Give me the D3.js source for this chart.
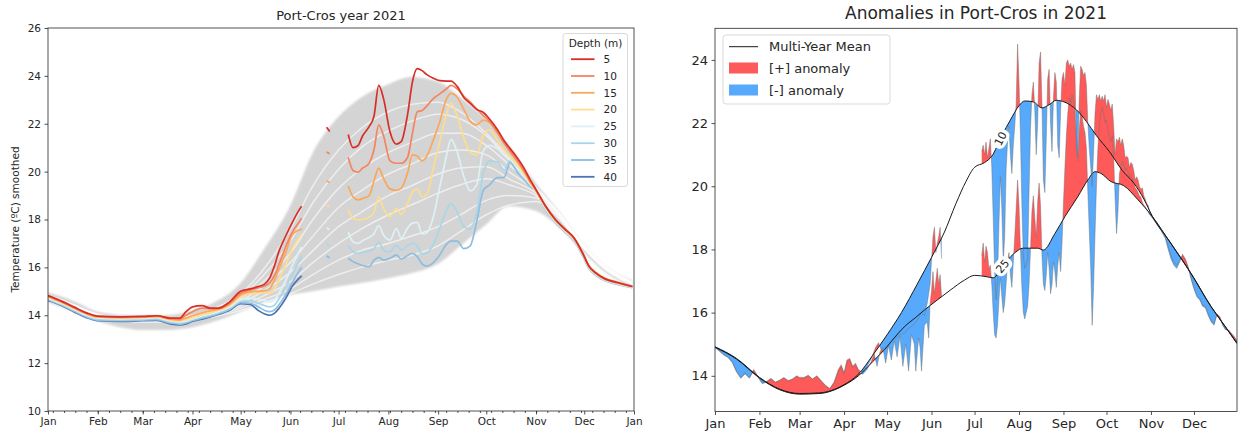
<!DOCTYPE html>
<html><head><meta charset="utf-8">
<script src="https://cdn.jsdelivr.net/npm/d3@7"></script>
<style>
html,body{margin:0;padding:0;background:#fff;}
svg{display:block;font-family:"DejaVu Sans",sans-serif;}
</style></head><body>
<svg id="chart" width="1239" height="439"></svg>
<script>
// ================= DATA =================
const monthsLabels = ["Jan","Feb","Mar","Apr","May","Jun","Jul","Aug","Sep","Oct","Nov","Dec"];
const depths = [5,10,15,20,25,30,35,40];
const depthColors = ["#d62f27","#f4845f","#fca65a","#fedd8d","#def1f6","#a9d6e8","#8ebde0","#4a74b4"];
const leftYTicks = [10,12,14,16,18,20,22,24,26];
const rightYTicks = [14,16,18,20,22,24];

// ---- Left panel: multi-year envelope & means (day of year) ----
const climDays = [0,14,31,45,59,73,90,104,120,134,151,165,181,195,212,226,243,257,273,287,304,318,334,348,364];
const envUpper = [14.95,14.65,14.15,14.02,13.98,14.0,14.2,14.55,15.35,16.7,18.6,20.8,22.3,23.1,23.65,23.95,23.75,23.1,22.2,21.1,19.5,18.35,16.9,16.0,15.45];
const envLower = [14.55,14.2,13.75,13.5,13.38,13.38,13.5,13.75,14.15,14.5,14.85,15.0,15.2,15.35,15.55,15.75,16.15,16.9,17.8,18.55,18.35,17.7,16.6,15.75,15.2];
const clim5  = [14.85,14.5,14.05,13.9,13.85,13.85,14.0,14.3,14.9,15.9,17.6,19.4,20.9,21.8,22.5,22.8,22.9,22.5,21.6,20.6,19.35,18.3,16.9,16.0,15.4];
const clim10 = [14.83,14.48,14.03,13.88,13.83,13.83,13.97,14.25,14.8,15.65,17.1,18.7,20.1,21.0,21.7,22.1,22.4,22.2,21.5,20.5,19.3,18.28,16.88,15.98,15.38];
const clim15 = [14.82,14.47,14.02,13.87,13.82,13.82,13.95,14.2,14.7,15.4,16.6,18.0,19.3,20.1,20.8,21.2,21.6,21.6,21.1,20.3,19.25,18.25,16.86,15.96,15.37];
const clim20 = [14.8,14.45,14.0,13.85,13.8,13.8,13.92,14.15,14.6,15.2,16.2,17.3,18.5,19.2,19.9,20.3,20.8,20.9,20.7,20.0,19.2,18.22,16.84,15.94,15.35];
const clim25 = [14.78,14.43,13.98,13.83,13.78,13.78,13.9,14.1,14.5,15.0,15.8,16.7,17.7,18.3,19.0,19.4,19.9,20.15,20.2,19.7,19.1,18.2,16.82,15.92,15.33];
const clim30 = [14.76,14.41,13.96,13.81,13.76,13.76,13.87,14.05,14.4,14.8,15.4,16.2,17.0,17.6,18.2,18.6,19.1,19.45,19.7,19.45,19.0,18.15,16.8,15.9,15.31];
const clim35 = [14.74,14.39,13.94,13.79,13.74,13.74,13.85,14.0,14.3,14.65,15.1,15.7,16.3,16.7,17.0,17.3,17.7,18.2,18.8,19.0,18.9,18.1,16.78,15.88,15.29];
const clim40 = [14.72,14.37,13.92,13.77,13.72,13.72,13.82,13.95,14.2,14.5,14.9,15.3,15.7,16.0,16.3,16.5,16.9,17.5,18.2,18.6,18.75,18.05,16.76,15.86,15.27];

// ---- Left panel: 2021 smoothed, three segments ----
const segADays = [0,8,16,24,31,45,59,68,76,82,86,90,96,101,106,113,120,126,131,135,138,141,144,148,152,156,158];
const t5A  = [14.82,14.6,14.35,14.1,13.96,13.93,13.95,13.98,13.88,13.88,14.15,14.35,14.4,14.3,14.3,14.55,15.0,15.1,15.2,15.3,15.55,16.05,16.7,17.3,17.85,18.35,18.55];
const t10A = [14.8,14.58,14.33,14.08,13.95,13.92,13.94,13.97,13.86,13.84,14.0,14.15,14.3,14.27,14.27,14.5,14.92,15.05,15.15,15.22,15.35,15.65,16.15,16.85,17.45,17.85,18.05];
const t15A = [14.78,14.56,14.3,14.06,13.93,13.9,13.92,13.95,13.84,13.8,13.88,13.98,14.1,14.18,14.25,14.45,14.85,14.98,15.0,15.02,15.1,15.45,15.95,16.6,17.35,17.55,17.6];
const t20A = [14.75,14.54,14.28,14.04,13.91,13.88,13.9,13.92,13.8,13.76,13.82,13.9,14.02,14.1,14.2,14.4,14.75,14.9,14.92,14.95,14.92,15.1,15.5,16.1,16.75,17.2,17.4];
const t25A = [14.72,14.5,14.25,14.0,13.88,13.85,13.87,13.9,13.76,13.72,13.76,13.85,13.97,14.05,14.15,14.33,14.65,14.72,14.68,14.6,14.55,14.65,14.95,15.45,16.05,16.6,16.85];
const t30A = [14.68,14.47,14.22,13.97,13.84,13.81,13.83,13.86,13.72,13.68,13.72,13.82,13.93,14.0,14.1,14.28,14.58,14.6,14.5,14.4,14.35,14.42,14.7,15.15,15.7,16.2,16.45];
const t35A = [14.65,14.44,14.18,13.93,13.8,13.77,13.8,13.82,13.68,13.63,13.68,13.78,13.88,13.96,14.06,14.24,14.53,14.5,14.35,14.2,14.15,14.22,14.45,14.85,15.35,15.8,16.0];
const t40A = [14.62,14.42,14.15,13.9,13.77,13.74,13.77,13.78,13.64,13.6,13.64,13.75,13.84,13.93,14.03,14.2,14.48,14.45,14.2,14.05,14.0,14.08,14.3,14.7,15.2,15.52,15.65];

const segBDays = [173.5,175.5];
const t5B = [21.85,21.68], t10B = [20.82,20.75], t15B = [19.62,19.55], t20B = [18.6,18.53];
const t25B = [17.64,17.58], t30B = [16.97,16.9], t35B = [16.47,16.4], t40B = [];

const segCDays = [187,190,193,196,200,203,206,209,213,217,220,224,227,230,233,236,240,244,248,251,255,259,263,267,271,275,280,284,288,292,296,300,304,310,316,322,328,333,337,341,347,354,364];
const t5C  = [21.55,21.0,21.08,21.5,21.88,22.3,23.6,23.05,21.67,21.15,21.25,22.4,23.75,24.3,24.22,24.05,23.9,23.8,23.78,23.78,23.55,23.1,22.85,22.6,22.48,22.2,21.75,21.3,20.95,20.6,20.2,19.7,19.25,18.55,18.0,17.6,17.2,16.6,16.05,15.78,15.52,15.38,15.2];
const t10C = [20.6,20.05,19.98,20.15,20.35,20.9,21.95,21.5,20.45,20.35,20.35,20.6,21.6,22.5,22.55,22.75,23.05,23.25,23.45,23.6,23.45,23.15,22.9,22.62,22.35,22.1,21.65,21.2,20.85,20.5,20.1,19.65,19.22,18.53,17.98,17.58,17.18,16.58,16.03,15.76,15.5,15.36,15.19];
const t15C = [19.4,18.95,18.82,18.88,19.0,19.6,20.15,19.72,19.28,19.22,19.3,19.95,20.7,20.65,20.45,20.65,21.32,22.08,23.0,23.27,23.1,22.6,22.1,21.95,22.15,22.05,21.6,21.2,20.8,20.45,20.05,19.6,19.2,18.55,18.0,17.6,17.2,16.6,16.06,15.8,15.54,15.4,15.22];
const t20C = [18.42,18.05,17.98,18.0,18.1,18.3,18.95,18.45,18.12,18.47,18.2,18.7,19.15,19.28,18.95,19.05,20.14,21.25,22.36,22.85,22.3,21.4,20.8,20.68,21.5,21.74,21.3,20.9,20.6,20.3,19.95,19.55,19.18,18.5,17.96,17.56,17.15,16.56,16.02,15.75,15.5,15.36,15.2];
const t25C = [17.48,17.07,17.0,17.12,17.25,17.4,17.75,17.35,17.14,17.62,17.22,17.65,17.85,17.88,17.4,17.45,18.1,19.35,20.6,21.35,20.8,19.8,19.2,19.45,20.85,21.1,20.95,20.7,20.5,20.2,19.85,19.5,19.15,18.45,17.92,17.52,17.12,16.52,15.98,15.72,15.47,15.33,15.17];
const t30C = [16.92,16.65,16.58,16.62,16.68,16.78,17.05,16.72,16.65,16.93,16.72,16.9,17.0,16.9,16.55,16.6,16.95,17.63,18.35,18.67,18.3,17.7,17.6,18.3,19.9,20.45,20.4,20.05,20.5,20.2,19.85,19.5,19.2,18.4,17.9,17.5,17.1,16.5,15.95,15.7,15.45,15.32,15.16];
const t35C = [16.38,16.24,16.15,16.08,16.03,16.3,16.42,16.3,16.38,16.52,16.35,16.5,16.58,16.45,16.15,16.05,16.2,16.52,16.95,17.1,17.1,16.78,16.9,17.9,19.2,19.45,19.75,19.75,20.4,20.0,19.7,19.4,19.18,18.4,17.88,17.48,17.08,16.48,15.94,15.68,15.44,15.3,15.15];
const t40C = [];

// ---- Right panel: multi-year means ----
const mean10Days = [0,15,31,45,59,73,90,100,110,120,130,141,151,160,168,175,181,188,193,200,206,212,216,222,228,233,238,244,252,259,266,275,284,292,299,305,318,332,346,356,364];
const mean10Vals = [14.92,14.55,13.95,13.58,13.44,13.46,13.72,14.05,14.65,15.3,16.0,16.9,17.75,18.55,19.45,20.15,20.6,20.75,20.95,21.6,22.1,22.55,22.7,22.67,22.48,22.58,22.72,22.66,22.42,22.05,21.6,21.1,20.5,20.1,19.6,19.05,18.19,17.24,16.19,15.55,15.03];
const mean25Days = [0,15,31,45,59,73,90,100,110,118,125,132,140,146,155,164,174,181,189,194,201,208,215,225,229,237,244,253,260,265,269,276,285,295,305,318,332,346,356,364];
const mean25Vals = [14.9,14.53,13.93,13.56,13.42,13.44,13.7,14.0,14.45,14.82,15.2,15.55,15.85,16.08,16.4,16.71,17.03,17.18,17.14,17.1,17.5,17.85,18.04,18.04,17.98,18.5,19.04,19.67,20.2,20.46,20.41,20.15,20.02,19.57,19.04,18.18,17.23,16.18,15.54,15.02];

// ---- Right panel: 2021 daily observations ----
const obs10DaysA = [0,3,6,9,12,15,18,21,24,27,30,33,36,39,42,45,48,51,54,57,59,62,65,68,71,74,77,80,83,86,88,90,92,94,96,98,100,103,106,109,112,114,116,118,120,123,126,129,132,135,138,141,144,146,148,150,152,153,154,155,156,157,158];
const obs10ValsA = [14.92,14.8,14.68,14.6,14.45,14.15,13.95,14.1,13.95,14.2,13.98,13.78,13.82,13.92,13.8,13.86,13.95,13.85,13.9,14.0,13.95,13.95,14.02,13.9,14.0,13.85,13.7,13.6,13.8,14.2,14.35,14.1,14.5,14.55,14.3,14.4,14.2,14.1,14.3,14.55,14.9,15.05,14.8,14.85,14.9,15.1,15.2,15.3,15.35,15.5,15.6,15.75,16.0,15.9,16.3,16.9,18.4,18.7,17.9,18.2,18.4,18.7,17.7];
const obs25DaysA = [0,3,6,9,12,15,18,21,24,27,30,33,36,39,42,45,48,51,54,57,59,62,65,68,71,74,77,80,83,86,88,90,92,94,96,98,100,103,106,109,111,113,115,117,119,121,123,125,127,129,131,133,135,137,139,140,142,143,144,146,148,149,150,151,152,153,154,155,156,157,158];
const obs25ValsA = [14.9,14.78,14.66,14.58,14.42,14.12,13.92,14.06,13.92,14.16,13.95,13.75,13.8,13.9,13.78,13.84,13.92,13.82,13.88,13.98,13.92,13.92,14.0,13.88,13.98,13.82,13.68,13.58,13.76,14.12,14.28,14.05,14.42,14.48,14.25,14.32,14.1,14.05,14.2,14.45,14.7,14.3,14.75,14.9,14.4,14.95,14.5,15.1,14.6,15.25,14.3,15.0,14.15,15.3,15.0,14.15,15.2,14.9,14.15,15.6,15.7,15.2,16.3,16.7,17.3,16.6,17.0,17.4,16.9,17.2,16.5];
const obsDaysCStart = 186; // daily values from Jul 6 to Nov 1
const obs10ValsC = [21.1,21.3,21.0,21.4,20.9,21.2,21.5,20.6,19.0,17.3,
  16.4,17.0,18.8,20.3,19.3,17.6,18.4,20.5,21.4,21.9,
  21.0,20.4,21.3,21.9,22.6,24.5,23.3,21.6,19.4,17.8,
  17.4,17.5,17.7,19.8,21.8,22.9,23.3,22.4,21.0,22.0,
  23.9,24.25,22.6,20.2,19.8,21.5,23.4,23.7,22.0,21.1,
  22.8,23.6,23.3,21.3,20.9,22.4,23.4,23.6,23.2,23.9,
  24.0,23.8,23.9,23.7,23.85,23.6,21.2,20.9,22.8,23.8,
  23.7,23.5,23.6,23.2,22.0,21.2,20.6,20.0,21.1,22.3,
  22.9,22.75,22.9,22.7,22.85,22.7,22.9,22.5,22.75,22.6,
  22.4,22.6,21.9,21.0,21.5,21.4,21.55,21.3,21.5,21.3,
  20.9,20.95,20.9,20.6,20.75,20.7,20.5,20.2,20.3,20.2,
  20.0,19.9,19.95,19.7,19.6,19.45,19.4,19.2,19.1,19.0];
const obs25ValsC = [17.8,18.2,17.6,18.1,17.9,17.4,17.5,16.9,16.0,15.3,
  15.2,15.6,16.4,17.1,16.5,16.0,16.3,16.9,17.6,17.9,
  17.2,16.8,17.6,18.4,19.3,20.2,19.4,18.0,16.8,16.0,
  15.8,16.0,16.2,16.9,18.0,19.2,19.7,19.0,18.4,19.5,
  20.1,19.4,17.8,16.9,16.7,17.2,17.9,17.4,16.6,16.9,
  17.6,17.3,16.8,17.5,17.9,17.3,18.2,19.5,20.6,21.6,
  22.3,22.8,22.6,22.9,22.7,22.4,21.5,20.8,21.8,22.4,
  22.2,21.9,21.7,21.2,19.8,18.6,17.4,15.6,16.8,18.5,
  20.0,21.2,21.9,22.3,22.5,22.3,22.0,22.1,21.8,21.5,
  21.4,21.6,20.9,19.6,18.5,19.2,20.4,20.6,20.8,20.7,
  20.5,20.6,20.45,20.3,20.35,20.2,20.1,19.95,19.9,19.8,
  19.7,19.65,19.5,19.4,19.35,19.25,19.2,19.1,19.05,19.0];
const obsDaysD = [308,311,314,316,318,320,322,324,326,328,330,332,334,336,338,340,342,344,346,348,350,352,354,356,358,360,362,364];
const obs10ValsD = [18.8,18.6,18.35,18.0,17.7,17.5,17.4,17.6,17.85,17.7,17.45,17.05,16.75,16.5,16.4,16.2,16.15,15.9,15.7,15.6,15.95,15.88,15.6,15.45,15.45,15.35,15.25,15.1];
const obs25ValsD = [18.82,18.62,18.4,18.1,17.8,17.6,17.5,17.65,17.8,17.65,17.4,17.1,16.8,16.55,16.45,16.25,16.2,15.95,15.75,15.65,15.95,15.85,15.62,15.48,15.45,15.33,15.22,15.08];

// ================= DRAWING =================
const svg = d3.select("#chart");
const T0 = Date.UTC(2021,0,1);
const dt = d => new Date(T0 + d*864e5);
const FONT = "DejaVu Sans, sans-serif";
const ink = "#262626";

// ---------- LEFT PANEL ----------
const L = {x0:48, x1:634, y0:28, y1:411};
const xL = d3.scaleUtc().domain([dt(0), new Date(Date.UTC(2022,0,1))]).range([L.x0, L.x1]);
const yL = d3.scaleLinear().domain([10,26]).range([L.y1, L.y0]);
const gL = svg.append("g");
svg.append("defs").append("clipPath").attr("id","clipL").append("rect")
  .attr("x",L.x0).attr("y",L.y0).attr("width",L.x1-L.x0).attr("height",L.y1-L.y0);
const defs = svg.select("defs");
defs.append("filter").attr("id","soft").append("feGaussianBlur").attr("stdDeviation",1.2);

const plotL = gL.append("g").attr("clip-path","url(#clipL)");
const band = d3.area().x((d,i)=>xL(dt(climDays[i]))).y0((d,i)=>yL(envLower[i])).y1((d,i)=>yL(envUpper[i])).curve(d3.curveMonotoneX);
plotL.append("path").attr("d", band(climDays)).attr("fill","#d4d4d4").attr("filter","url(#soft)");

const climAll = [clim5,clim10,clim15,clim20,clim25,clim30,clim35,clim40];
const lineL = d3.line().x(p=>xL(dt(p[0]))).y(p=>yL(p[1])).curve(d3.curveMonotoneX);
climAll.forEach(arr=>{
  plotL.append("path").attr("d", lineL(climDays.map((d,i)=>[d,arr[i]])))
    .attr("fill","none").attr("stroke","#ffffff").attr("stroke-width",1.5).attr("stroke-opacity",0.6);
});

const segA = [t5A,t10A,t15A,t20A,t25A,t30A,t35A,t40A];
const segB = [t5B,t10B,t15B,t20B,t25B,t30B,t35B,t40B];
const segC = [t5C,t10C,t15C,t20C,t25C,t30C,t35C,t40C];
for (let k = depths.length-1; k>=0; k--) {
  [[segADays,segA[k]],[segBDays,segB[k]],[segCDays,segC[k]]].forEach(([days,vals])=>{
    if (!vals.length) return;
    plotL.append("path").attr("d", lineL(days.map((d,i)=>[d,vals[i]])))
      .attr("fill","none").attr("stroke",depthColors[k]).attr("stroke-width",1.7)
      .attr("stroke-linecap","butt");
  });
}

// axes left
const axLY = d3.axisLeft(yL).tickValues(leftYTicks).tickSize(3.5).tickPadding(3.5);
const gLY = gL.append("g").attr("transform",`translate(${L.x0},0)`).call(axLY);
const monthTicksL = d3.utcMonth.range(dt(0), new Date(Date.UTC(2022,0,2)));
const axLX = d3.axisBottom(xL).tickValues(monthTicksL).tickFormat(d3.utcFormat("%b")).tickSize(3.5).tickPadding(3);
const gLX = gL.append("g").attr("transform",`translate(0,${L.y1})`).call(axLX);
const minorL = d3.utcMonday.range(dt(0), new Date(Date.UTC(2022,0,1)));
const axLXm = d3.axisBottom(xL).tickValues(minorL).tickFormat("").tickSize(2);
const gLXm = gL.append("g").attr("transform",`translate(0,${L.y1})`).call(axLXm);
[gLY,gLX,gLXm].forEach(g=>{
  g.select(".domain").remove();
  g.selectAll("line").attr("stroke",ink).attr("stroke-width",0.8);
  g.selectAll("text").attr("font-family",FONT).attr("font-size",10.5).attr("fill",ink);
});
gL.append("rect").attr("x",L.x0).attr("y",L.y0).attr("width",L.x1-L.x0).attr("height",L.y1-L.y0)
  .attr("fill","none").attr("stroke",ink).attr("stroke-width",0.8);
gL.append("text").attr("x",(L.x0+L.x1)/2).attr("y",19.5).attr("text-anchor","middle")
  .attr("font-family",FONT).attr("font-size",13).attr("fill",ink).text("Port-Cros year 2021");
gL.append("text").attr("transform",`translate(18.5,${(L.y0+L.y1)/2}) rotate(-90)`).attr("text-anchor","middle")
  .attr("font-family",FONT).attr("font-size",10.5).attr("fill",ink).text("Temperature (ºC) smoothed");

// legend left
const lg = gL.append("g");
lg.append("rect").attr("x",563).attr("y",33.5).attr("width",64.5).attr("height",153).attr("rx",2.5)
  .attr("fill","#fff").attr("fill-opacity",0.85).attr("stroke","#d0d0d0").attr("stroke-width",0.8);
lg.append("text").attr("x",595.5).attr("y",47).attr("text-anchor","middle").attr("font-family",FONT)
  .attr("font-size",10.5).attr("fill",ink).text("Depth (m)");
depths.forEach((dp,i)=>{
  const yy = 59.2 + i*16.8;
  lg.append("line").attr("x1",571).attr("x2",594.5).attr("y1",yy).attr("y2",yy)
    .attr("stroke",depthColors[i]).attr("stroke-width",1.8);
  lg.append("text").attr("x",603.5).attr("y",yy+3.8).attr("font-family",FONT).attr("font-size",10.5)
    .attr("fill",ink).text(dp);
});

// ---------- RIGHT PANEL ----------
const R = {x0:715, x1:1237, y0:28.3, y1:411.5};
const xR = d3.scaleUtc().domain([dt(0), dt(364)]).range([R.x0, R.x1]);
const yR = d3.scaleLinear().domain([12.87,25.0]).range([R.y1, R.y0]);
const gR = svg.append("g");
defs.append("clipPath").attr("id","clipR").append("rect")
  .attr("x",R.x0).attr("y",R.y0).attr("width",R.x1-R.x0).attr("height",R.y1-R.y0);
const plotR = gR.append("g").attr("clip-path","url(#clipR)");

const RED = "#ff5a5a", BLUE = "#56a9fb";
function buildObs(daysA, valsA, valsC, valsD){
  return [
    ...daysA.map((d,i)=>({d, v: valsA[i]})),
    {d: 172, v: null},
    ...valsC.map((v,i)=>({d: obsDaysCStart + i, v})),
    ...obsDaysD.map((d,i)=>({d, v: valsD[i]}))
  ];
}
const obs10 = buildObs(obs10DaysA, obs10ValsA, obs10ValsC, obs10ValsD);
const obs25 = buildObs(obs25DaysA, obs25ValsA, obs25ValsC, obs25ValsD);
const means = [
  {id:"m25", days:mean25Days, vals:mean25Vals, obs:obs25},
  {id:"m10", days:mean10Days, vals:mean10Vals, obs:obs10}
];
const curve = d3.curveMonotoneX;
means.forEach(m=>{
  const pts = m.days.map((d,i)=>[d,m.vals[i]]);
  const above = d3.area().x(p=>xR(dt(p[0]))).y0(R.y0-5).y1(p=>yR(p[1])).curve(curve);
  const below = d3.area().x(p=>xR(dt(p[0]))).y0(R.y1+5).y1(p=>yR(p[1])).curve(curve);
  defs.append("clipPath").attr("id","ab_"+m.id).append("path").attr("d",above(pts));
  defs.append("clipPath").attr("id","be_"+m.id).append("path").attr("d",below(pts));
  const down = d3.area().defined(p=>p.v!=null).x(p=>xR(dt(p.d))).y0(R.y1+5).y1(p=>yR(p.v));
  const up = d3.area().defined(p=>p.v!=null).x(p=>xR(dt(p.d))).y0(R.y0-5).y1(p=>yR(p.v));
  plotR.append("g").attr("clip-path",`url(#ab_${m.id})`).append("path").attr("d",down(m.obs)).attr("fill",RED);
  plotR.append("g").attr("clip-path",`url(#be_${m.id})`).append("path").attr("d",up(m.obs)).attr("fill",BLUE);
});
const obsLine = d3.line().defined(p=>p.v!=null).x(p=>xR(dt(p.d))).y(p=>yR(p.v));
[obs25, obs10].forEach(o=>{
  plotR.append("path").attr("d",obsLine(o)).attr("fill","none").attr("stroke","#707070")
    .attr("stroke-opacity",0.45).attr("stroke-width",1);
});
const meanLine = d3.line().x(p=>xR(dt(p[0]))).y(p=>yR(p[1])).curve(curve);
means.forEach(m=>{
  plotR.append("path").attr("d",meanLine(m.days.map((d,i)=>[d,m.vals[i]])))
    .attr("fill","none").attr("stroke","#1a1a1a").attr("stroke-width",1);
});
// inline labels on mean curves
function interp(days, vals, d){
  const i = d3.bisectRight(days, d);
  if (i<=0) return vals[0];
  if (i>=days.length) return vals[vals.length-1];
  const t=(d-days[i-1])/(days[i]-days[i-1]);
  return vals[i-1]+t*(vals[i]-vals[i-1]);
}
[[mean10Days,mean10Vals,199,"10"],[mean25Days,mean25Vals,200.5,"25"]].forEach(([days,vals,d,txt])=>{
  const px = xR(dt(d)), py = yR(interp(days,vals,d));
  const ax = xR(dt(d-4)), ay = yR(interp(days,vals,d-4));
  const bx = xR(dt(d+4)), by = yR(interp(days,vals,d+4));
  const ang = Math.atan2(by-ay, bx-ax)*180/Math.PI;
  const lab = gR.append("g").attr("transform",`translate(${px},${py}) rotate(${ang})`);
  lab.append("rect").attr("x",-10).attr("y",-7.5).attr("width",20).attr("height",15).attr("rx",6).attr("fill","#fff");
  lab.append("text").attr("text-anchor","middle").attr("y",4).attr("font-family",FONT).attr("font-size",11)
    .attr("fill",ink).text(txt);
});

// axes right
const axRY = d3.axisLeft(yR).tickValues(rightYTicks).tickSize(3.5).tickPadding(3.5);
const gRY = gR.append("g").attr("transform",`translate(${R.x0},0)`).call(axRY);
const monthTicksR = d3.utcMonth.range(dt(0), dt(364));
const axRX = d3.axisBottom(xR).tickValues(monthTicksR).tickFormat((d,i)=>monthsLabels[i]).tickSize(3.5).tickPadding(4);
const gRX = gR.append("g").attr("transform",`translate(0,${R.y1})`).call(axRX);
[gRY,gRX].forEach(g=>{
  g.select(".domain").remove();
  g.selectAll("line").attr("stroke",ink).attr("stroke-width",0.8);
  g.selectAll("text").attr("font-family",FONT).attr("font-size",13).attr("fill",ink);
});
gR.append("rect").attr("x",R.x0).attr("y",R.y0).attr("width",R.x1-R.x0).attr("height",R.y1-R.y0)
  .attr("fill","none").attr("stroke",ink).attr("stroke-width",0.8);
gR.append("text").attr("x",(R.x0+R.x1)/2).attr("y",18.5).attr("text-anchor","middle")
  .attr("font-family",FONT).attr("font-size",17).attr("fill",ink).text("Anomalies in Port-Cros in 2021");

// legend right
const lr = gR.append("g");
lr.append("rect").attr("x",723).attr("y",35).attr("width",167).attr("height",69).attr("rx",3)
  .attr("fill","#fff").attr("fill-opacity",0.85).attr("stroke","#d0d0d0").attr("stroke-width",0.8);
lr.append("line").attr("x1",729).attr("x2",758).attr("y1",46.7).attr("y2",46.7).attr("stroke","#1a1a1a").attr("stroke-width",1);
lr.append("rect").attr("x",729).attr("y",62.5).attr("width",29).attr("height",11).attr("fill",RED);
lr.append("rect").attr("x",729).attr("y",84.5).attr("width",29).attr("height",11).attr("fill",BLUE);
[["Multi-Year Mean",46.7],["[+] anomaly",68.3],["[-] anomaly",90.3]].forEach(([t,yy])=>{
  lr.append("text").attr("x",769).attr("y",yy+4.6).attr("font-family",FONT).attr("font-size",13)
    .attr("fill",ink).text(t);
});
</script>
</body></html>
